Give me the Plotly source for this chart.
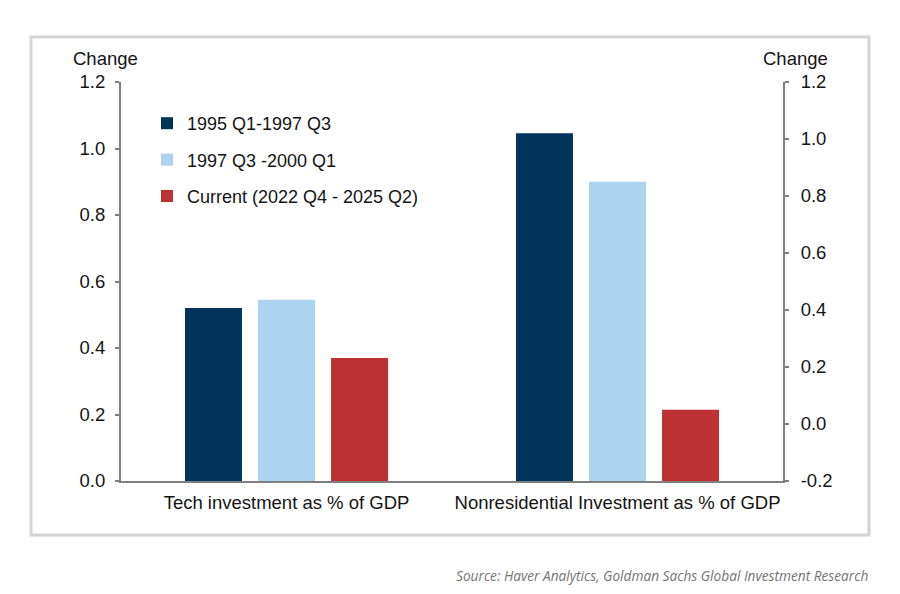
import plotly.graph_objects as go

categories = ["Tech investment as % of GDP", "Nonresidential Investment as % of GDP"]
series_names = ["1995 Q1-1997 Q3", "1997 Q3 -2000 Q1", "Current (2022 Q4 - 2025 Q2)"]
tech_values = [0.52, 0.545, 0.37]        # left axis
nonres_values = [1.02, 0.85, 0.05]       # right axis
colors = ["#02335a", "#acd3f0", "#bd3034"]
left_ticks = [0.0, 0.2, 0.4, 0.6, 0.8, 1.0, 1.2]
right_ticks = [-0.2, 0.0, 0.2, 0.4, 0.6, 0.8, 1.0, 1.2]
right_base = -0.2

FONT = "Liberation Sans, Arial, sans-serif"
TXT = "#141414"

fig = go.Figure()
for i, name in enumerate(series_names):
    fig.add_trace(go.Bar(
        x=[categories[0]], y=[tech_values[i]], name=name,
        marker=dict(color=colors[i], line=dict(width=0)),
        legendgroup=f"g{i}", yaxis="y", showlegend=True,
        hovertemplate="%{y:.2f}<extra>" + name + "</extra>",
    ))
for i, name in enumerate(series_names):
    fig.add_trace(go.Bar(
        x=[categories[1]], y=[nonres_values[i] - right_base], base=right_base, name=name,
        marker=dict(color=colors[i], line=dict(width=0)),
        legendgroup=f"g{i}", yaxis="y2", showlegend=False,
        customdata=[nonres_values[i]],
        hovertemplate="%{customdata:.2f}<extra>" + name + "</extra>",
    ))

OFF = 8  # page body margin
W, H = 892, 586
L, R, T, B = 113, 117, 74, 113
pw, ph = W - L - R, H - T - B

def px(xs):
    return (xs - OFF - L) / pw

def py(ys):
    return (H - B - (ys - OFF)) / ph

fig.update_layout(
    width=W, height=H,
    margin=dict(l=L, r=R, t=T, b=B),
    paper_bgcolor="white", plot_bgcolor="white",
    font=dict(family=FONT, size=18.5, color=TXT),
    barmode="group", bargap=0.338, bargroupgap=0.22,
    xaxis=dict(
        type="category", categoryorder="array", categoryarray=categories,
        showline=True, linecolor="#7f7f7f", linewidth=2,
        ticks="", showgrid=False, zeroline=False,
        tickfont=dict(size=18.5, color=TXT), ticklabelstandoff=4,
    ),
    yaxis=dict(
        range=[0, 1.2], tickvals=left_ticks, ticktext=[f"{v:.1f}" for v in left_ticks],
        showline=True, linecolor="#7f7f7f", linewidth=2,
        ticks="outside", ticklen=4, tickcolor="#7f7f7f", tickwidth=1.5,
        showgrid=False, zeroline=False, tickfont=dict(size=18.5, color=TXT),
        ticklabelstandoff=6,
    ),
    yaxis2=dict(
        range=[-0.2, 1.2], tickvals=right_ticks, ticktext=[f"{v:.1f}" for v in right_ticks],
        overlaying="y", side="right",
        showline=True, linecolor="#7f7f7f", linewidth=2,
        ticks="outside", ticklen=4, tickcolor="#7f7f7f", tickwidth=1.5,
        showgrid=False, zeroline=False, tickfont=dict(size=18.5, color=TXT),
        ticklabelstandoff=8,
    ),
    legend=dict(
        x=(139 - L) / pw, y=(H - B - 97) / ph, xanchor="left", yanchor="top",
        bgcolor="rgba(0,0,0,0)", font=dict(size=18, color=TXT),
        traceorder="grouped", tracegroupgap=10, itemwidth=30,
    ),
    showlegend=True,
    shapes=[dict(
        type="rect", xref="paper", yref="paper",
        x0=px(31), x1=px(869), y0=py(535), y1=py(37),
        line=dict(color="#d4d4d4", width=3), fillcolor="rgba(0,0,0,0)", layer="below",
    )],
    annotations=[
        dict(text="Change", xref="paper", yref="paper", x=px(105), y=py(58),
             xanchor="center", yanchor="middle", showarrow=False,
             font=dict(size=18.5, color=TXT)),
        dict(text="Change", xref="paper", yref="paper", x=px(796), y=py(58),
             xanchor="center", yanchor="middle", showarrow=False,
             font=dict(size=18.5, color=TXT)),
        dict(text="<i>Source: Haver Analytics, Goldman Sachs Global Investment Research</i>",
             xref="paper", yref="paper", x=px(870), y=py(575),
             xanchor="right", yanchor="middle", showarrow=False,
             font=dict(family="Open Sans, sans-serif", size=13.7, color="#737373")),
    ],
)

fig.write_html("out.html")
